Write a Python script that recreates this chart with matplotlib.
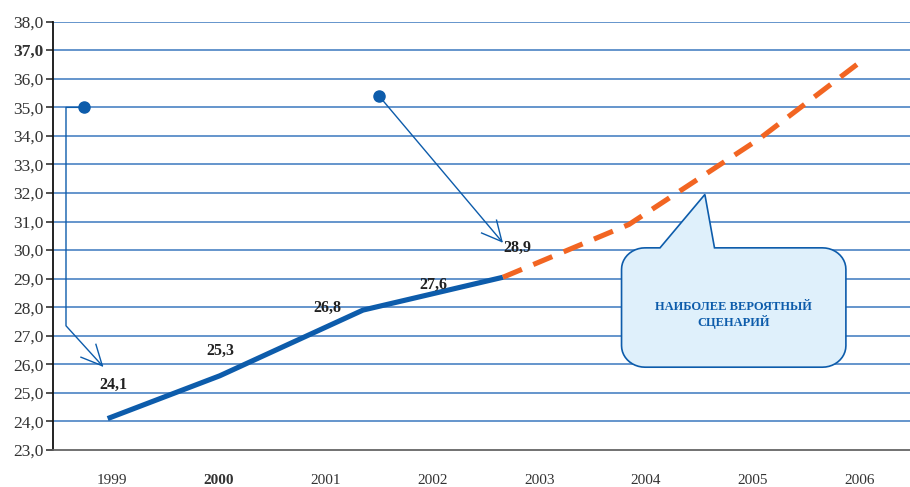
import matplotlib
matplotlib.use('Agg')
import numpy as np
import matplotlib.pyplot as plt
from matplotlib.path import Path
from matplotlib.patches import PathPatch

plt.rcParams['font.family'] = ['Liberation Serif', 'DejaVu Serif']

years = ['1999', '2000', '2001', '2002', '2003', '2004', '2005', '2006']
yticks = np.arange(23, 39, 1)

# fact line (positions on the year axis, value)
fact_x = [-0.04, 1.01, 2.35, 3.66]
fact_y = [24.1, 25.6, 27.9, 29.05]
# forecast line
fcst_x = [3.66, 4.84, 6.06, 6.99]
fcst_y = [29.05, 30.9, 33.9, 36.55]
# data labels
lab_x = [0, 1, 2, 3, 3.78]
lab_v = [24.1, 25.3, 26.8, 27.6, 28.9]

blue = '#0d5cab'
grid = '#3b78bf'
orange = '#f26522'

fig = plt.figure(figsize=(9.1, 4.87), dpi=100)
ax = fig.add_axes([0.0582, 0.076, 0.9418, 0.8794])
ax.set_xlim(-0.552, 7.47)
ax.set_ylim(23, 38)

for v in yticks[1:]:
    ax.axhline(v, color=grid, lw=1.1, zorder=1)

ax.plot(fact_x, fact_y, color=blue, lw=3.7, solid_capstyle='butt',
        solid_joinstyle='round', zorder=4)
ax.plot(fcst_x, fcst_y, color=orange, lw=3.7, dashes=(4.0, 2.4),
        dash_capstyle='butt', zorder=4)

for x, v in zip(lab_x, lab_v):
    ax.annotate(f'{v:.1f}'.replace('.', ','), (x, v), xytext=(1, 24),
                textcoords='offset points', ha='center', va='center',
                fontsize=11.5, fontweight='bold', color='#222222', zorder=5)

# pointer 1 (left)
ax.plot([-0.26, -0.43, -0.43, -0.09], [35.0, 35.0, 27.35, 25.95],
        color=blue, lw=1.0, zorder=3)
ax.plot([-0.29, -0.09, -0.15], [26.25, 25.95, 26.7], color=blue, lw=1.0, zorder=3)
ax.plot([-0.26], [35.0], 'o', color=blue, ms=8, zorder=5)

# pointer 2 (middle)
ax.plot([2.50, 3.65], [35.4, 30.3], color=blue, lw=1.0, zorder=3)
ax.plot([3.46, 3.65, 3.60], [30.6, 30.3, 31.05], color=blue, lw=1.0, zorder=3)
ax.plot([2.50], [35.4], 'o', color=blue, ms=8, zorder=5)

# callout bubble
x0, x1, y0, y1 = 4.77, 6.87, 25.9, 30.08
rx, ry = 0.22, 0.75
def arc(cx, cy, a0, a1):
    t = np.radians(np.linspace(a0, a1, 12))
    return list(zip(cx + rx * np.cos(t), cy + ry * np.sin(t)))
pts = []
pts += arc(x0 + rx, y1 - ry, 90, 180)
pts += arc(x0 + rx, y0 + ry, 180, 270)
pts += arc(x1 - rx, y0 + ry, 270, 360)
pts += arc(x1 - rx, y1 - ry, 0, 90)
pts += [(5.64, y1), (5.55, 31.95), (5.13, y1)]
pts.append(pts[0])
path = Path(pts)
ax.add_patch(PathPatch(path, facecolor='#dff0fb', edgecolor=blue, lw=1.2, zorder=6))
ax.text((x0 + x1) / 2, 27.72, 'НАИБОЛЕЕ ВЕРОЯТНЫЙ\nСЦЕНАРИЙ', ha='center',
        va='center', fontsize=9, fontweight='bold', color=blue, zorder=7,
        linespacing=1.2)

ax.set_xticks(range(len(years)))
ax.set_xticklabels(years)
ax.set_yticks(yticks)
ax.set_yticklabels([f'{v:.1f}'.replace('.', ',') for v in yticks])
ax.tick_params(axis='x', length=0, pad=17, labelsize=11, colors='#333333')
ax.tick_params(axis='y', length=5, width=1.2, pad=1.5, labelsize=12.5,
               colors='#333333', direction='out')
for t in ax.get_yticklabels():
    if t.get_text() == '37,0':
        t.set_fontweight('bold')
for t in ax.get_xticklabels():
    if t.get_text() == '2000':
        t.set_fontweight('bold')

ax.spines['top'].set_visible(False)
ax.spines['right'].set_visible(False)
ax.spines['left'].set_color('#111111')
ax.spines['left'].set_linewidth(1.3)
ax.spines['bottom'].set_color('#666666')
ax.spines['bottom'].set_linewidth(1.3)

plt.savefig('out.png', dpi=100)
